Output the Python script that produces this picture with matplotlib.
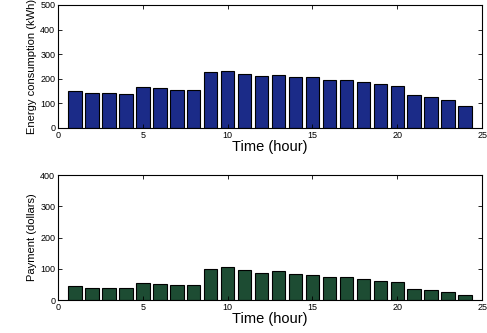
import matplotlib
matplotlib.use("Agg")
import matplotlib.pyplot as plt

hours = list(range(1, 25))
energy = [149, 140, 143, 137, 168, 163, 156, 156, 229, 233, 221, 211, 217, 205, 205, 193,
          193, 185, 179, 171, 132, 125, 115, 88]
payment = [44, 38, 40, 37, 55, 51, 47, 47, 101, 106, 96, 86, 92, 82, 80, 73,
           73, 66, 62, 57, 34, 31, 25, 16]

plt.rcParams['font.family'] = ['Liberation Sans', 'DejaVu Sans']

fig = plt.figure(figsize=(4.87, 3.33), dpi=100)

def style(ax, ymax, ylabel):
    ax.set_xlim(0, 25)
    ax.set_ylim(0, ymax)
    ax.set_xticks([0, 5, 10, 15, 20, 25])
    ax.set_yticks(range(0, ymax + 1, 100))
    ax.tick_params(direction='in', length=3, width=0.6, labelsize=6.5, top=True, right=True, pad=2)
    for s in ax.spines.values():
        s.set_linewidth(0.8)
    ax.set_xlabel('Time (hour)', fontsize=10.5, labelpad=0)
    ax.set_ylabel(ylabel, fontsize=8, labelpad=2)

ax1 = fig.add_axes([0.119, 0.616, 0.871, 0.369])
ax1.bar(hours, energy, width=0.8, color='#1b2b88', edgecolor='black', linewidth=0.8)
style(ax1, 500, 'Energy consumption (kWh)')

ax2 = fig.add_axes([0.119, 0.099, 0.871, 0.375])
ax2.bar(hours, payment, width=0.8, color='#1d4c33', edgecolor='black', linewidth=0.8)
style(ax2, 400, 'Payment (dollars)')

fig.savefig('out.png', dpi=100)
